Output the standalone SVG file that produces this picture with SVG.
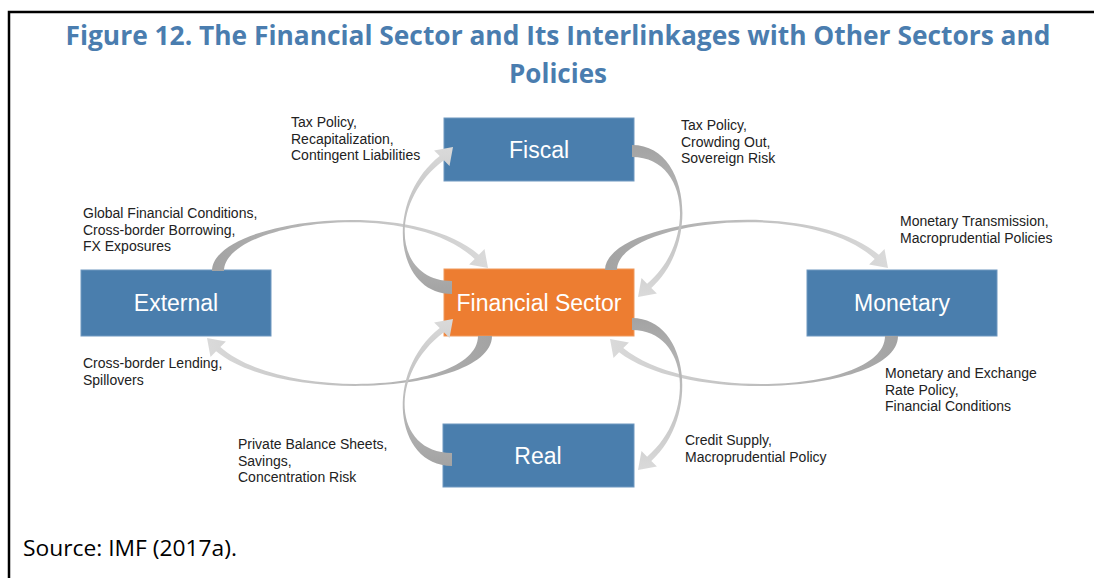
<svg xmlns="http://www.w3.org/2000/svg" width="1094" height="578" viewBox="0 0 1094 578">
<style>
.title{font-family:"Open Sans","Noto Sans",sans-serif;font-weight:bold;font-size:26px;fill:#4A7DAF;text-anchor:middle}
.src{font-family:"Open Sans","Noto Sans",sans-serif;font-size:21px;fill:#000}
.box{fill:#4A7EAD;stroke:#6F98C0;stroke-width:1}
.fin{fill:#ED7D31;stroke:#F09A5C;stroke-width:1}
.nt{font-family:"Liberation Sans",Arial,sans-serif;font-size:23px;fill:#fff;text-anchor:middle}
.lb{font-family:"Liberation Sans",Arial,sans-serif;font-size:14px;fill:#222}
</style>
<defs>
<linearGradient id="gA" gradientUnits="userSpaceOnUse" x1="212" y1="270" x2="488" y2="270"><stop offset="0" stop-color="#A3A3A3"/><stop offset="1" stop-color="#DADADA"/></linearGradient>
<linearGradient id="gE" gradientUnits="userSpaceOnUse" x1="605" y1="270" x2="888" y2="270"><stop offset="0" stop-color="#A3A3A3"/><stop offset="1" stop-color="#DADADA"/></linearGradient>
<linearGradient id="gB" gradientUnits="userSpaceOnUse" x1="492" y1="340" x2="207" y2="340"><stop offset="0" stop-color="#A3A3A3"/><stop offset="1" stop-color="#DADADA"/></linearGradient>
<linearGradient id="gF" gradientUnits="userSpaceOnUse" x1="898" y1="340" x2="610" y2="340"><stop offset="0" stop-color="#A3A3A3"/><stop offset="1" stop-color="#DADADA"/></linearGradient>
<linearGradient id="gC" gradientUnits="userSpaceOnUse" x1="0" y1="145" x2="0" y2="297"><stop offset="0" stop-color="#A3A3A3"/><stop offset="1" stop-color="#DADADA"/></linearGradient>
<linearGradient id="gD" gradientUnits="userSpaceOnUse" x1="0" y1="294" x2="0" y2="147"><stop offset="0" stop-color="#A3A3A3"/><stop offset="1" stop-color="#DADADA"/></linearGradient>
</defs>
<rect width="1094" height="578" fill="#fff"/>
<path d="M9,578 V12 H1094" fill="none" stroke="#000" stroke-width="2.5"/>
<text class="title" x="558" y="45" textLength="985" lengthAdjust="spacingAndGlyphs">Figure 12. The Financial Sector and Its Interlinkages with Other Sectors and</text>
<text class="title" x="558" y="83">Policies</text>
<g id="fiscal"><rect class="box" x="444" y="118" width="190" height="63"/><text class="nt" x="539" y="158">Fiscal</text></g>
<g id="financial-sector"><rect class="fin" x="444" y="269" width="190" height="67"/><text class="nt" x="539" y="311">Financial Sector</text></g>
<g id="external"><rect class="box" x="81" y="270" width="190" height="66"/><text class="nt" x="176" y="311">External</text></g>
<g id="monetary"><rect class="box" x="807" y="270" width="190" height="66"/><text class="nt" x="902" y="311">Monetary</text></g>
<g id="real"><rect class="box" x="443" y="424" width="191" height="63"/><text class="nt" x="538" y="464">Real</text></g>
<g id="connectors">
<path fill="url(#gA)" d="M212,271 C212,220 410,195 478.9,254.7 L484.5,249.1 L488,268 L469.1,264.5 L474.7,258.9 C409,197 224,222 224,271 Z"/>
<path fill="url(#gE)" d="M605,270 C605,220 808,195 878.9,254.7 L884.5,249.1 L888,268 L869.1,264.5 L874.7,258.9 C807,197 617,222 617,270 Z"/>
<path fill="url(#gB)" d="M492,336 C492,392 282,406 216.1,351.3 L210.5,356.9 L207,338 L225.9,341.5 L220.3,347.1 C284,403 478,392 478,336 Z"/>
<path fill="url(#gF)" d="M898,336 C898,392 688,406 619.1,352.3 L613.5,357.9 L610,339 L628.9,342.5 L623.3,348.1 C690,403 885,392 885,336 Z"/>
<path fill="url(#gC)" d="M632,145 C690,145 700,245 651.3,287.9 L656.9,293.5 L638,297 L641.5,278.1 L647.1,283.7 C696,243 690,157 632,157 Z"/>
<path fill="url(#gD)" d="M452,294 C394,294 384,200 439.7,156.1 L434.1,150.5 L453,147 L449.5,165.9 L443.9,160.3 C388,202 393,281 452,281 Z"/>
<path fill="url(#gC)" transform="translate(0,173)" d="M632,145 C690,145 700,245 651.3,287.9 L656.9,293.5 L638,297 L641.5,278.1 L647.1,283.7 C696,243 690,157 632,157 Z"/>
<path fill="url(#gD)" transform="translate(0,172)" d="M452,294 C394,294 384,200 439.7,156.1 L434.1,150.5 L453,147 L449.5,165.9 L443.9,160.3 C388,202 393,281 452,281 Z"/>
</g>
<g id="labels">
<text class="lb" x="291" y="127">Tax Policy,<tspan x="291" y="143.5">Recapitalization,</tspan><tspan x="291" y="160">Contingent Liabilities</tspan></text>
<text class="lb" x="681" y="130">Tax Policy,<tspan x="681" y="146.5">Crowding Out,</tspan><tspan x="681" y="163">Sovereign Risk</tspan></text>
<text class="lb" x="83" y="218">Global Financial Conditions,<tspan x="83" y="234.5">Cross-border Borrowing,</tspan><tspan x="83" y="251">FX Exposures</tspan></text>
<text class="lb" x="83" y="368">Cross-border Lending,<tspan x="83" y="384.5">Spillovers</tspan></text>
<text class="lb" x="900" y="226">Monetary Transmission,<tspan x="900" y="242.5">Macroprudential Policies</tspan></text>
<text class="lb" x="885" y="378">Monetary and Exchange<tspan x="885" y="394.5">Rate Policy,</tspan><tspan x="885" y="411">Financial Conditions</tspan></text>
<text class="lb" x="238" y="449">Private Balance Sheets,<tspan x="238" y="465.5">Savings,</tspan><tspan x="238" y="482">Concentration Risk</tspan></text>
<text class="lb" x="685" y="445">Credit Supply,<tspan x="685" y="461.5">Macroprudential Policy</tspan></text>
</g>
<text class="src" x="23" y="556" textLength="214" lengthAdjust="spacingAndGlyphs">Source: IMF (2017a).</text>
</svg>
